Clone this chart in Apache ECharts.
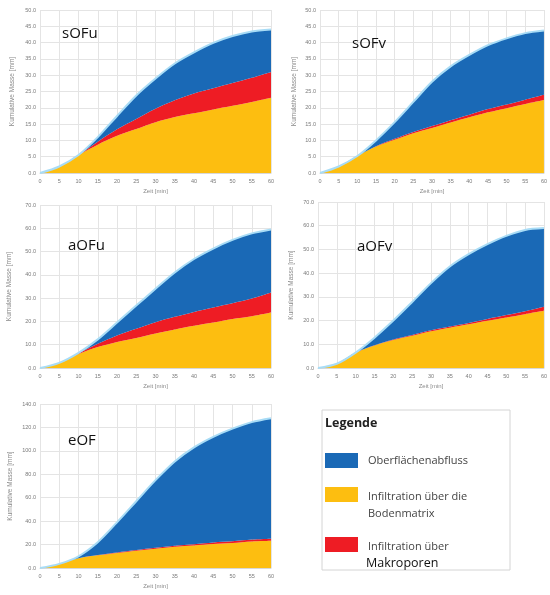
<!DOCTYPE html>
<html><head><meta charset="utf-8">
<script src="https://cdn.jsdelivr.net/npm/echarts@6/dist/echarts.min.js"></script>
<style>html,body{margin:0;padding:0;background:#fff}#c{width:550px;height:595px}</style>
</head><body><div id="c"></div>
<script>
// time axis (minutes)
const minutes = [0,5,10,15,20,25,30,35,40,45,50,55,60];

// panel names
const panelNames = ['sOFu','sOFv','aOFu','aOFv','eOF'];
const yMaxes = [50, 50, 70, 70, 140];
const yIntervals = [5, 5, 10, 10, 20];

// component values [mm] per panel
// Infiltration über die Bodenmatrix (yellow)
const matrix_sOFu = [0,2.0,5.5,8.7,11.4,13.5,15.6,17.2,18.3,19.5,20.6,21.8,23.1];
const matrix_sOFv = [0,2.0,5.2,8.1,10.2,12.2,13.8,15.5,17.1,18.6,19.9,21.2,22.4];
const matrix_aOFu = [0,2.2,6.0,9.0,11.2,12.9,14.8,16.5,18.1,19.5,21.0,22.2,23.8];
const matrix_aOFv = [0,1.8,6.5,9.5,11.8,13.6,15.5,17.0,18.4,19.9,21.3,22.7,24.1];
const matrix_eOF  = [0,3.5,8.3,10.8,12.8,14.8,16.5,18.2,19.3,20.5,21.3,22.7,23.3];
// Infiltration über Makroporen (red)
const macro_sOFu = [0,0,0,0.9,2.0,3.1,4.1,5.1,6.1,6.5,7.0,7.4,7.9];
const macro_sOFv = [0,0,0,0.1,0.3,0.4,0.6,0.7,0.8,1.0,1.1,1.3,1.6];
const macro_aOFu = [0,0,0.3,1.4,2.8,4.0,4.9,5.5,6.0,6.5,6.8,7.6,8.6];
const macro_aOFv = [0,0,0,0.1,0.2,0.3,0.4,0.5,0.6,0.8,1.0,1.2,1.7];
const macro_eOF  = [0,0,0.1,0.2,0.4,0.5,0.7,0.8,1.0,1.3,1.5,1.6,1.7];
// Oberflächenabfluss (blue)
const runoff_sOFu = [0,0,0,1.4,4.1,7.2,9.3,11.3,12.6,13.9,14.4,14.2,13.0];
const runoff_sOFv = [0,0,0,1.8,5.1,9.2,13.6,16.5,18.3,19.6,20.3,20.4,19.7];
const runoff_aOFu = [0,0,0.2,1.9,5.5,9.9,14.3,19.0,22.7,25.3,27.2,28.0,27.1];
const runoff_aOFv = [0,0,0,3.2,8.0,13.9,19.9,25.3,29.0,31.5,33.4,34.3,33.2];
const runoff_eOF  = [0,0,1.6,11.0,25.8,41.7,57.8,72.0,82.7,90.2,96.2,100.2,102.8];

const matrixAll = [matrix_sOFu, matrix_sOFv, matrix_aOFu, matrix_aOFv, matrix_eOF];
const macroAll  = [macro_sOFu, macro_sOFv, macro_aOFu, macro_aOFv, macro_eOF];
const runoffAll = [runoff_sOFu, runoff_sOFv, runoff_aOFu, runoff_aOFv, runoff_eOF];

const seriesNames = ['Infiltration über die Bodenmatrix','Infiltration über Makroporen','Oberflächenabfluss'];
const colors = {matrix:'#fdbe10', macro:'#ee1c24', runoff:'#1a69b6', edge:'#a8dcf6'};

const grids = [
  {left:40, top:10, width:231, height:163},
  {left:320, top:10, width:227, height:163},
  {left:40, top:205, width:231, height:163},
  {left:318, top:202, width:227, height:166},
  {left:40, top:404, width:231, height:164}
];
const yNameGaps = [24, 22, 27, 23, 26];
const titlePos = [[62,36],[352,46],[68,248],[357,249],[68,443]];

const labelFont = {fontFamily:'Liberation Sans', fontSize:5.5, color:'#7a7a7a'};
const gridLine = {show:true, lineStyle:{color:'#e4e4e4', width:1}};

const xAxes = [], yAxes = [], series = [];
panelNames.forEach((p, i) => {
  xAxes.push({
    type:'category', gridIndex:i, data:minutes, boundaryGap:false,
    name:'Zeit [min]', nameLocation:'middle', nameGap:15,
    nameTextStyle:{fontFamily:'Liberation Sans', fontSize:6, color:'#8a8a8a'},
    axisLine:{show:true, lineStyle:{color:'#d8d8d8'}}, axisTick:{show:false},
    axisLabel:Object.assign({margin:5, interval:0}, labelFont),
    splitLine:Object.assign({interval:0}, gridLine)
  });
  yAxes.push({
    type:'value', gridIndex:i, min:0, max:yMaxes[i], interval:yIntervals[i],
    name:'Kumulative Masse [mm]', nameLocation:'middle', nameGap:yNameGaps[i],
    nameTextStyle:{fontFamily:'Liberation Sans', fontSize:6.5, color:'#8a8a8a'},
    axisLine:{show:false}, axisTick:{show:false},
    axisLabel:Object.assign({margin:4, formatter:v=>v.toFixed(1)}, labelFont),
    splitLine:gridLine
  });
  const comps = [matrixAll[i], macroAll[i], runoffAll[i]];
  const cols = [colors.matrix, colors.macro, colors.runoff];
  comps.forEach((arr, k) => {
    series.push({
      type:'line', name:seriesNames[k], xAxisIndex:i, yAxisIndex:i, stack:'s'+i,
      data: arr,
      smooth:0.3, symbol:'none',
      lineStyle: k===2 ? {color:colors.edge, width:2} : {width:0, color:cols[k]},
      areaStyle:{color:cols[k], opacity:1},
      itemStyle:{color:cols[k]},
      z: 2
    });
  });
});

const graphic = [];
panelNames.forEach((p,i)=>{
  graphic.push({type:'text', left:titlePos[i][0], top:titlePos[i][1]-10, z:100,
    style:{text:p, fontFamily:'Open Sans', fontSize:15, fill:'#111'}});
});
// legend box
graphic.push({type:'rect', shape:{x:322, y:410, width:188, height:160}, style:{fill:'#fff', stroke:'#d4d4d4', lineWidth:1}, z:50});
graphic.push({type:'text', x:325, y:423, style:{text:'Legende', fontFamily:'Open Sans', fontWeight:'bold', fontSize:12.5, fill:'#222', textVerticalAlign:'middle'}, z:60});
const legendItems = [
  {color:colors.runoff, y:453, lines:[['Oberflächenabfluss',461]]},
  {color:colors.matrix, y:487, lines:[['Infiltration über die',497],['Bodenmatrix',514]]},
  {color:colors.macro,  y:537, lines:[['Infiltration über',547]]}
];
legendItems.forEach(it=>{
  graphic.push({type:'rect', shape:{x:325, y:it.y, width:33, height:15}, style:{fill:it.color}, z:60});
  it.lines.forEach(l=>{
    graphic.push({type:'text', x:368, y:l[1], style:{text:l[0], fontFamily:'Open Sans', fontSize:11, fill:'#444', textVerticalAlign:'middle'}, z:60});
  });
});
graphic.push({type:'text', x:366, y:563, style:{text:'Makroporen', fontFamily:'Open Sans', fontSize:12.5, fill:'#111', textVerticalAlign:'middle'}, z:61});

const chart = echarts.init(document.getElementById('c'), null, {renderer:'canvas'});
chart.setOption({
  animation:false,
  backgroundColor:'#fff',
  grid: grids,
  xAxis: xAxes,
  yAxis: yAxes,
  series: series,
  graphic: graphic
});
</script>
</body></html>
